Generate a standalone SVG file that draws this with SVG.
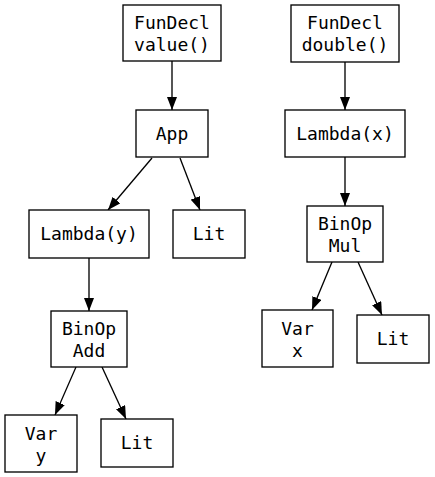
<svg xmlns="http://www.w3.org/2000/svg" width="435" height="477" viewBox="0 0 435 477">
<style>
.n rect{fill:#fff;stroke:#000;stroke-width:1.33}
.n text{font-family:"DejaVu Sans Mono",monospace;font-size:18px;text-anchor:middle;fill:#000}
#edges line{stroke:#000;stroke-width:1.33;marker-end:url(#ah)}
</style>
<defs>
<marker id="ah" viewBox="0 0 13 10" refX="13" refY="5" markerWidth="13" markerHeight="10" markerUnits="userSpaceOnUse" orient="auto">
<path d="M0,0 L13,5 L0,10 z" fill="#000"/>
</marker>
</defs>
<rect width="435" height="477" fill="#fff"/>
<g id="edges">
<line x1="172" y1="61" x2="172" y2="110"/>
<line x1="152" y1="158" x2="108" y2="210"/>
<line x1="180" y1="158" x2="200" y2="210"/>
<line x1="89" y1="258" x2="89" y2="311"/>
<line x1="76" y1="367" x2="55" y2="415"/>
<line x1="102" y1="367" x2="126" y2="419"/>
<line x1="345" y1="62" x2="345" y2="110"/>
<line x1="345" y1="157" x2="345" y2="206"/>
<line x1="332" y1="262" x2="312" y2="310"/>
<line x1="358" y1="262" x2="382" y2="315"/>
</g>
<g id="funValue" class="n"><rect x="123" y="5" width="98" height="56"/><text x="172" y="29">FunDecl</text><text x="172" y="51">value()</text></g>
<g id="app" class="n"><rect x="136" y="110" width="72" height="47"/><text x="172" y="139.5">App</text></g>
<g id="lambdaY" class="n"><rect x="29" y="210" width="120" height="48"/><text x="89" y="240">Lambda(y)</text></g>
<g id="lit1" class="n"><rect x="173" y="210" width="72" height="48"/><text x="209" y="240">Lit</text></g>
<g id="binAdd" class="n"><rect x="51" y="311" width="76" height="56"/><text x="89" y="335">BinOp</text><text x="89" y="357">Add</text></g>
<g id="varY" class="n"><rect x="5" y="415" width="72" height="57"/><text x="41" y="439.5">Var</text><text x="41" y="461.5">y</text></g>
<g id="lit2" class="n"><rect x="101" y="419" width="72" height="48"/><text x="137" y="449">Lit</text></g>
<g id="funDouble" class="n"><rect x="291" y="5" width="108" height="57"/><text x="345" y="29">FunDecl</text><text x="345" y="51">double()</text></g>
<g id="lambdaX" class="n"><rect x="285" y="110" width="120" height="47"/><text x="345" y="139.5">Lambda(x)</text></g>
<g id="binMul" class="n"><rect x="307" y="206" width="76" height="56"/><text x="345" y="230">BinOp</text><text x="345" y="252">Mul</text></g>
<g id="varX" class="n"><rect x="262" y="310" width="71" height="57"/><text x="297.5" y="334.5">Var</text><text x="297.5" y="356.5">x</text></g>
<g id="lit3" class="n"><rect x="357" y="315" width="72" height="48"/><text x="393" y="345">Lit</text></g>
</svg>
